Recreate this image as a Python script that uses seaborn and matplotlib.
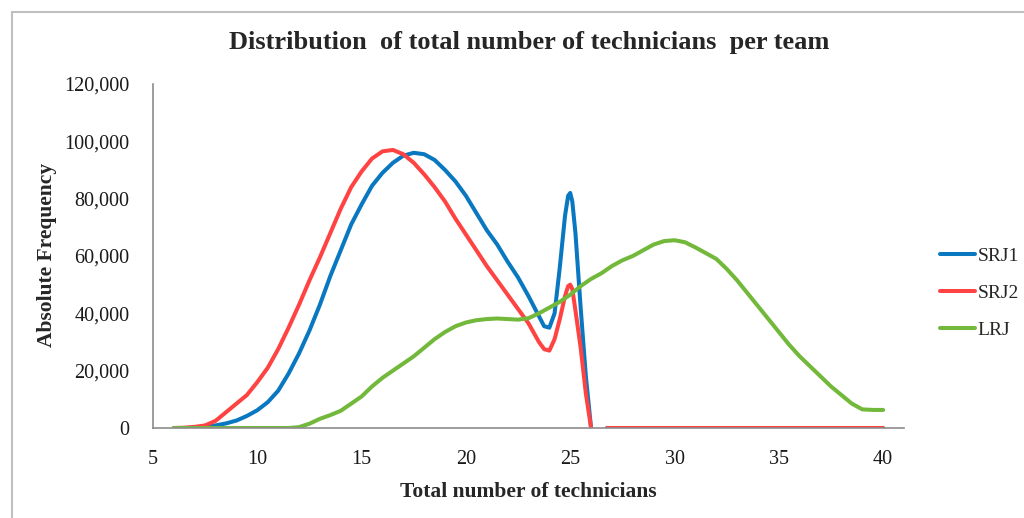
import numpy as np
import pandas as pd
import matplotlib
matplotlib.use("Agg")
import matplotlib.pyplot as plt
from matplotlib.lines import Line2D
from matplotlib.ticker import FuncFormatter
import seaborn as sns

# ---------------------------------------------------------------------------
# data (values are absolute frequencies)

x_srj = [6, 6.5, 7, 7.5, 8, 8.5, 9, 9.5, 10, 10.5, 11, 11.5, 12, 12.5, 13, 13.5,
         14, 14.5, 15, 15.5, 16, 16.5, 17, 17.5, 18, 18.5, 19, 19.5, 20, 20.5,
         21, 21.5, 22, 22.5, 23, 23.5, 23.75, 24, 24.25, 24.5, 24.75, 24.9, 25,
         25.1, 25.25, 25.5, 25.75, 26, 26.5, 26.75, 27, 28, 29, 30, 31, 32, 33,
         34, 35, 36, 37, 38, 39, 40]

srj1 = [0, 0, 100, 400, 900, 1600, 2600, 4200, 6200, 9000, 13000, 19000, 26000,
        34000, 43000, 53000, 62000, 71000, 78000, 84500, 89000, 92500, 95000,
        96000, 95500, 93500, 90000, 86000, 81000, 75000, 69000, 64000, 58000,
        52500, 46000, 39000, 35500, 35000, 40000, 56000, 74000, 81000, 82000,
        79000, 68000, 42000, 18000, 0, np.nan, 0, 0, 0, 0, 0, 0, 0, 0, 0, 0, 0,
        0, 0, 0, 0]

srj2 = [0, 100, 400, 900, 2500, 5500, 8500, 11500, 16000, 21000, 27500, 35000,
        43000, 51500, 59500, 68000, 76500, 84000, 89500, 94000, 96500, 97000,
        95500, 92500, 88500, 84000, 79000, 73000, 67500, 62000, 56500, 51500,
        46500, 41500, 36500, 30000, 27500, 27000, 31000, 38000, 46000, 49500,
        50000, 48500, 41000, 28000, 12000, 0, np.nan, 0, 0, 0, 0, 0, 0, 0, 0, 0,
        0, 0, 0, 0, 0, 0]

x_lrj = [6, 7, 8, 9, 10, 11, 11.5, 12, 12.5, 13, 13.5, 14, 14.5, 15, 15.5, 16,
         16.5, 17, 17.5, 18, 18.5, 19, 19.5, 20, 20.5, 21, 21.5, 22, 22.5, 23,
         23.5, 24, 24.5, 25, 25.5, 26, 26.5, 27, 27.5, 28, 28.5, 29, 29.5, 30,
         30.5, 31, 31.5, 32, 32.5, 33, 33.5, 34, 34.5, 35, 35.5, 36, 36.5, 37,
         37.5, 38, 38.5, 39, 39.5, 40]

lrj = [0, 0, 0, 0, 0, 0, 0, 300, 1500, 3200, 4500, 6000, 8500, 11000, 14500,
       17500, 20000, 22500, 25000, 28000, 31000, 33500, 35500, 36800, 37600,
       38000, 38200, 38000, 37800, 38300, 40000, 42000, 44000, 46500, 49500,
       52000, 54000, 56500, 58500, 60000, 62000, 64000, 65200, 65500, 64800,
       63000, 61000, 59000, 55500, 51500, 47000, 42500, 38000, 33500, 29000,
       25000, 21500, 18000, 14500, 11500, 8500, 6500, 6300, 6300]

series_names = ["SRJ1", "SRJ2", "LRJ"]
colors = ["#0A78C0", "#FF4343", "#72B83A"]

# ---------------------------------------------------------------------------

frames = []
for name, xs, ys in [("SRJ1", x_srj, srj1), ("SRJ2", x_srj, srj2), ("LRJ", x_lrj, lrj)]:
    d = pd.DataFrame({"x": xs, "y": ys})
    d["series"] = name
    # a missing value breaks the line into separate pieces
    d["segment"] = d["y"].isna().cumsum()
    frames.append(d.dropna())
df = pd.concat(frames, ignore_index=True)

sns.set_theme(style="white")
plt.rcParams["font.family"] = ["Liberation Serif", "DejaVu Serif"]

fig = plt.figure(figsize=(10.24, 5.18), dpi=100)
ax = fig.add_axes([153 / 1024, 1 - 428 / 518, (904 - 153) / 1024, (428 - 84) / 518])

sns.lineplot(data=df, x="x", y="y", hue="series", units="segment",
             estimator=None, sort=False, hue_order=series_names,
             palette=colors, linewidth=2.9, ax=ax, legend=False,
             solid_capstyle="round", solid_joinstyle="round")

ax.set_xlim(5, 41)
ax.set_ylim(0, 120000)
ax.set_xticks(range(5, 41, 5))
ax.set_yticks(range(0, 120001, 20000))
ax.yaxis.set_major_formatter(FuncFormatter(lambda v, p: f"{int(v):,}"))
ax.tick_params(axis="both", length=0, labelsize=14.5, colors="#1a1a1a")
ax.tick_params(axis="x", pad=16)
ax.tick_params(axis="y", pad=17)

for s in ["top", "right"]:
    ax.spines[s].set_visible(False)
for s in ["left", "bottom"]:
    ax.spines[s].set_color("#8c8c8c")
    ax.spines[s].set_linewidth(1.2)

ax.set_xlabel("")
ax.set_ylabel("")
fig.text(528 / 1024, 1 - 492 / 518, "Total number of technicians", ha="center",
         va="center", fontsize=15.5, fontweight="bold")
fig.text(47 / 1024, 1 - 255 / 518, "Absolute Frequency", ha="center", va="center",
         rotation=90, fontsize=15.5, fontweight="bold")
fig.text(529 / 1024, 1 - 42 / 518, "Distribution  of total number of technicians  per team",
         ha="center", va="center", fontsize=19, fontweight="bold")

handles = [Line2D([0], [0], color=c, lw=2.9) for c in colors]
fig.legend(handles, series_names, loc="center left",
           bbox_to_anchor=(940 / 1024, 1 - 293 / 518), frameon=False,
           fontsize=14, handlelength=1.8, handletextpad=0.12,
           labelspacing=1.0, borderpad=0.0, borderaxespad=0.0)

# chart border (runs off the right and bottom of the image)
fig.add_artist(Line2D([12 / 1024, 1], [1 - 12 / 518, 1 - 12 / 518],
                      color="#c0c0c0", lw=1.5, transform=fig.transFigure))
fig.add_artist(Line2D([12 / 1024, 12 / 1024], [0, 1 - 12 / 518],
                      color="#c0c0c0", lw=1.5, transform=fig.transFigure))

fig.savefig("out.png", dpi=100, facecolor="white")
